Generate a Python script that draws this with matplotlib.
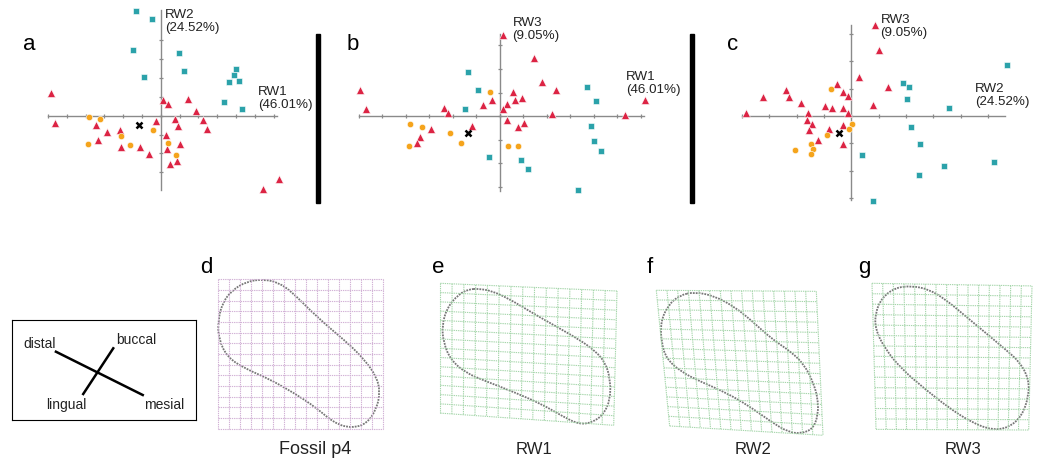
import numpy as np
import matplotlib

matplotlib.use("Agg")
import matplotlib.pyplot as plt  # noqa: E402
from matplotlib.path import Path  # noqa: E402
from matplotlib.patches import PathPatch, Rectangle  # noqa: E402

plt.rcParams["font.family"] = ["Liberation Sans", "DejaVu Sans"]

W, H = 1040, 459  # output size in pixels (dpi 100)

RED, TEAL, ORANGE = "#dc2444", "#2ba2aa", "#f5a41c"
AXIS_GREY = "#8a8a8a"

# ---- relative-warp scores ----
# panel a: RW1 (x) vs RW2 (y)
a_tri_x = [-5.84, -5.61, 0.12, 0.39, 1.47, 1.86, -3.42, -2.87, -2.16, -3.36, -2.09, -1.08, -0.64,
           -0.25, 0.74, 0.90, 0.28, 1.03, 0.35, 0.48, 0.87, 2.25, 2.44, 5.42, 6.28]
a_tri_y = [1.22, -0.41, 0.83, 0.62, 0.88, 0.25, -0.51, -0.87, -0.76, -1.31, -1.66, -1.66, -2.04,
           -0.30, -0.16, -0.57, -1.03, -1.52, -1.77, -2.57, -2.42, -0.23, -0.69, -3.89, -3.35]
a_sq_x = [-1.31, -0.46, -1.45, 0.96, -0.90, 1.22, 4.02, 3.89, 3.63, 4.18, 3.36, 4.35]
a_sq_y = [5.58, 5.17, 3.47, 3.31, 2.04, 2.39, 2.48, 2.14, 1.79, 1.84, 0.74, 0.34]
a_dot_x = [-3.81, -3.22, -2.12, -3.88, -1.61, -0.39, 0.39, 0.81]
a_dot_y = [-0.07, -0.19, -1.06, -1.49, -1.54, -0.76, -1.43, -2.09]
a_fossil = (-1.13, -0.50)

# panel b: RW1 (x) vs RW3 (y)
b_tri_x = [0.14, 1.45, 1.80, 2.38, -5.96, -5.69, 0.57, 0.96, 0.65, -0.33, 0.30, 0.14, -0.72,
           -2.37, -2.21, 2.23, 5.33, 6.20, 0.30, 1.02, 0.79, -1.16, -2.92, -3.40, -3.53]
b_tri_y = [3.45, 2.45, 1.43, 1.11, 1.12, 0.28, 1.01, 0.75, 0.70, 0.70, 0.52, 0.28, 0.45,
           0.35, 0.11, 0.09, 0.04, 0.67, -0.18, -0.28, -0.47, -0.41, -0.55, -0.89, -1.16]
b_sq_x = [-1.36, -0.92, -1.49, -0.45, 0.91, 1.21, 3.70, 4.09, 3.89, 4.00, 4.31, 3.32]
b_sq_y = [1.89, 1.12, 0.28, -1.73, -1.89, -2.26, 1.22, 0.64, -0.44, -1.06, -1.49, -3.15]
b_dot_x = [-3.82, -3.29, -2.13, -3.87, -1.63, -0.40, 0.34, 0.79]
b_dot_y = [-0.33, -0.48, -0.72, -1.26, -1.13, 1.04, -1.28, -1.28]
b_fossil = (-1.35, -0.72)

# panel c: RW2 (x) vs RW3 (y)
c_tri_x = [0.88, 1.00, 0.29, 1.35, 0.78, -0.52, -0.30, -0.12, -2.38, -2.27, -3.24, -1.85, -3.87,
           -1.60, -0.96, -0.71, -0.32, -0.11, -1.63, -1.43, -1.56, -0.80, -0.32, -1.23, -0.29]
c_tri_y = [3.32, 2.41, 1.41, 1.07, 0.39, 1.16, 0.88, 0.73, 0.94, 0.68, 0.70, 0.49, 0.10,
           0.12, 0.37, 0.28, 0.30, 0.10, -0.15, -0.30, -0.51, -0.46, -0.34, -0.87, -1.04]
c_sq_x = [5.68, 1.90, 2.12, 2.05, 3.57, 2.18, 2.52, 0.40, 3.40, 5.23, 2.46, 0.79]
c_sq_y = [1.87, 1.22, 1.07, 0.61, 0.29, -0.41, -1.02, -1.44, -1.82, -1.70, -2.17, -3.11]
c_dot_x = [-0.74, 0.02, -0.09, -0.90, -1.49, -1.41, -2.05, -1.46]
c_dot_y = [0.98, -0.29, -0.49, -0.70, -1.02, -1.21, -1.26, -1.40]
c_fossil = (-0.44, -0.61)

# ---- deformation grids (15 x 14 cells): corners TL, TR, BL, BR and outline, in cell units ----
d_corners = [(0, 0), (15, 0), (0, 14), (15, 14)]
d_out_u = [4.15, 5.52, 6.73, 8.24, 10.06, 11.88, 13.39, 14.45, 14.76, 14.45, 13.55, 12.18,
           10.67, 8.85, 7.03, 4.61, 2.48, 0.82, 0.06, 0.0, 0.36, 1.27, 2.64]
d_out_v = [0.0, 0.31, 1.19, 2.75, 4.47, 6.03, 7.59, 9.16, 10.56, 12.13, 13.53, 13.94,
           13.53, 11.97, 10.72, 9.31, 8.38, 7.28, 5.56, 4.0, 2.28, 1.03, 0.19]

e_corners = [(0, 0), (15, 0.76), (0, 12.8), (14.72, 14)]
e_out_u = [3.25, 4.39, 5.80, 7.78, 9.76, 11.75, 13.16, 14.01, 14.43, 14.43, 13.87, 12.88,
           11.75, 10.33, 8.63, 6.37, 3.82, 2.12, 0.85, 0.28, 0.14, 0.57, 1.56, 2.41]
e_out_v = [0.53, 0.76, 1.51, 2.89, 4.21, 5.52, 6.67, 7.82, 9.46, 11.44, 12.92, 13.74,
           13.90, 13.08, 11.93, 10.78, 9.63, 8.81, 7.49, 5.85, 4.21, 2.40, 1.08, 0.59]

f_corners = [(0, 0), (14.4, 0.1), (1.2, 13.1), (15, 14)]
f_out_u = [3.45, 5.25, 7.05, 8.55, 10.35, 12.15, 13.35, 14.10, 14.55, 14.55, 14.10, 13.05,
           11.85, 10.35, 8.25, 6.15, 4.05, 2.25, 0.90, 0.45, 0.39, 1.05, 2.10]
f_out_v = [0.16, 0.55, 1.61, 2.90, 4.67, 5.95, 7.24, 8.85, 10.46, 12.07, 13.36, 13.84,
           13.68, 12.71, 11.10, 9.82, 8.85, 7.89, 6.60, 4.99, 3.06, 1.45, 0.48]

g_corners = [(0, 0), (15, 0.25), (0.375, 13.94), (14.69, 14)]
g_out_u = [3.75, 5.31, 6.88, 8.75, 10.63, 12.5, 13.91, 14.69, 14.69, 14.06, 12.81, 11.25,
           9.38, 7.19, 5.0, 2.81, 1.25, 0.31, 0.31, 0.94, 2.19]
g_out_v = [0.25, 0.57, 1.53, 3.12, 4.71, 6.30, 7.57, 9.16, 10.75, 12.66, 13.78, 14.0,
           13.3, 11.87, 10.12, 8.21, 6.30, 4.39, 2.8, 1.37, 0.41]

fig = plt.figure(figsize=(W / 100, H / 100), dpi=100)


def px_axes(x0, y0, x1, y1):
    """Add an axes covering the pixel box (x0, y0)-(x1, y1), y measured from the top."""
    return fig.add_axes([x0 / W, 1 - y1 / H, (x1 - x0) / W, (y1 - y0) / H])


def scatter_panel(origin, unit, xlim, ylim, hline, vline, xticks, yticks, data, labels):
    ox, oy = origin
    ax = px_axes(ox + xlim[0] * unit, oy - ylim[1] * unit, ox + xlim[1] * unit, oy - ylim[0] * unit)
    ax.set_xlim(xlim)
    ax.set_ylim(ylim)
    ax.axis("off")
    ax.plot(hline, [0, 0], color=AXIS_GREY, lw=1.0, zorder=1)
    ax.plot([0, 0], vline, color=AXIS_GREY, lw=1.0, zorder=1)
    ax.plot(xticks, np.zeros(len(xticks)), ls="none", marker="|", ms=3.5, mew=0.9, color=AXIS_GREY)
    ax.plot(np.zeros(len(yticks)), yticks, ls="none", marker="_", ms=3.5, mew=0.9, color=AXIS_GREY)

    tx, ty, sx, sy, ox_, oy_, fossil = data
    kw = dict(ls="none", mec="white", mew=0.4, clip_on=False, zorder=3)
    ax.plot(tx, ty, marker="^", ms=5.8, color=RED, **kw)
    ax.plot(sx, sy, marker="s", ms=4.4, color=TEAL, **kw)
    ax.plot(ox_, oy_, marker="o", ms=4.6, color=ORANGE, **kw)
    ax.plot(*fossil, marker="x", ms=4.2, mew=1.8, color="black", ls="none", zorder=4)

    for (x, y), text in labels:
        ax.text(x, y, text, ha="left", va="top", fontsize=9.6, color="#222222", linespacing=1.08)
    return ax


scatter_panel((160.7, 115.7), 18.8, (-6.6, 6.8), (-4.4, 6.0), (-6.0, 6.2), (-3.95, 5.6),
              np.arange(-6, 7), np.arange(-3, 5),
              (a_tri_x, a_tri_y, a_sq_x, a_sq_y, a_dot_x, a_dot_y, a_fossil),
              [((0.23, 5.65), "RW2\n(24.52%)"), ((5.18, 1.58), "RW1\n(46.01%)")])
scatter_panel((499.7, 116.0), 23.5, (-6.5, 6.6), (-3.6, 4.5), (-6.0, 6.15), (-3.18, 3.49),
              np.arange(-6, 7), np.arange(-3, 4),
              (b_tri_x, b_tri_y, b_sq_x, b_sq_y, b_dot_x, b_dot_y, b_fossil),
              [((0.55, 4.22), "RW3\n(9.05%)"), ((5.37, 1.92), "RW1\n(46.01%)")])
scatter_panel((851.3, 116.0), 27.33, (-4.3, 6.0), (-3.4, 4.0), (-4.0, 5.62), (-3.07, 3.33),
              np.arange(-4, 6), np.arange(-3, 4),
              (c_tri_x, c_tri_y, c_sq_x, c_sq_y, c_dot_x, c_dot_y, c_fossil),
              [((1.07, 3.72), "RW3\n(9.05%)"), ((4.53, 1.2), "RW2\n(24.52%)")])

# black separator bars between the scatter panels
for bx in (316.0, 689.5):
    fig.add_artist(Rectangle((bx / W, 1 - 203 / H), 4.2 / W, 169 / H,
                             transform=fig.transFigure, color="black"))


def closed_smooth_path(us, vs):
    """Closed quadratic B-spline through the midpoints of the outline points."""
    pts = np.column_stack([us, vs])
    mids = (pts + np.roll(pts, -1, axis=0)) / 2
    verts, codes = [mids[-1]], [Path.MOVETO]
    for p, m in zip(pts, mids):
        verts += [p, m]
        codes += [Path.CURVE3, Path.CURVE3]
    return Path(verts, codes)


def warp_panel(box, corners, out_u, out_v, grid_color):
    ax = px_axes(*box)
    ax.set_xlim(0, 15)
    ax.set_ylim(14, 0)
    ax.axis("off")
    tl, tr, bl, br = (np.array(c, dtype=float) for c in corners)
    style = dict(color=grid_color, lw=0.8, ls=(0, (1.2, 0.8)), clip_on=False)
    for s in np.arange(16) / 15:
        top, bot = tl + s * (tr - tl), bl + s * (br - bl)
        ax.plot([top[0], bot[0]], [top[1], bot[1]], **style)
    for t in np.arange(15) / 14:
        left, right = tl + t * (bl - tl), tr + t * (br - tr)
        ax.plot([left[0], right[0]], [left[1], right[1]], **style)
    ax.add_patch(PathPatch(closed_smooth_path(out_u, out_v), fc="none", ec="#777777",
                           lw=1.3, ls=(0, (1, 0.6)), clip_on=False))


PINK, GREEN = "#d2b2d6", "#a6d6ab"
warp_panel((218, 279.3, 382.7, 428.7), d_corners, d_out_u, d_out_v, PINK)
warp_panel((440.3, 283.3, 617, 425.3), e_corners, e_out_u, e_out_v, GREEN)
warp_panel((656.3, 290.3, 823, 435.3), f_corners, f_out_u, f_out_v, GREEN)
warp_panel((872, 283.3, 1032, 430), g_corners, g_out_u, g_out_v, GREEN)

# panel letters
for x, y, letter in [(23, 50, "a"), (347, 50, "b"), (727, 50, "c"), (200, 273, "d"),
                     (432, 273, "e"), (647, 273, "f"), (858, 273, "g")]:
    fig.text(x / W, 1 - y / H, letter, fontsize=16, va="baseline", ha="left")

# captions under the deformation grids
for x, text, size in [(315.5, "Fossil p4", 13), (534, "RW1", 12), (753, "RW2", 12), (963, "RW3", 12)]:
    fig.text(x / W, 1 - 454 / H, text, fontsize=size, va="baseline", ha="center", color="#222222")

# orientation key
leg = px_axes(11.7, 320, 196, 420)
leg.set_xlim(0, 1)
leg.set_ylim(0, 1)
leg.set_xticks([])
leg.set_yticks([])
for sp in leg.spines.values():
    sp.set_linewidth(0.8)
leg.plot([0.24, 0.711], [0.683, 0.25], color="black", lw=1.8)
leg.plot([0.551, 0.388], [0.717, 0.26], color="black", lw=1.8)
for x, y, word in [(0.061, 0.72, "distal"), (0.566, 0.76, "buccal"),
                   (0.186, 0.107, "lingual"), (0.718, 0.107, "mesial")]:
    leg.text(x, y, word, fontsize=10, va="baseline", ha="left", color="#222222")

fig.savefig("out.png", dpi=100)
